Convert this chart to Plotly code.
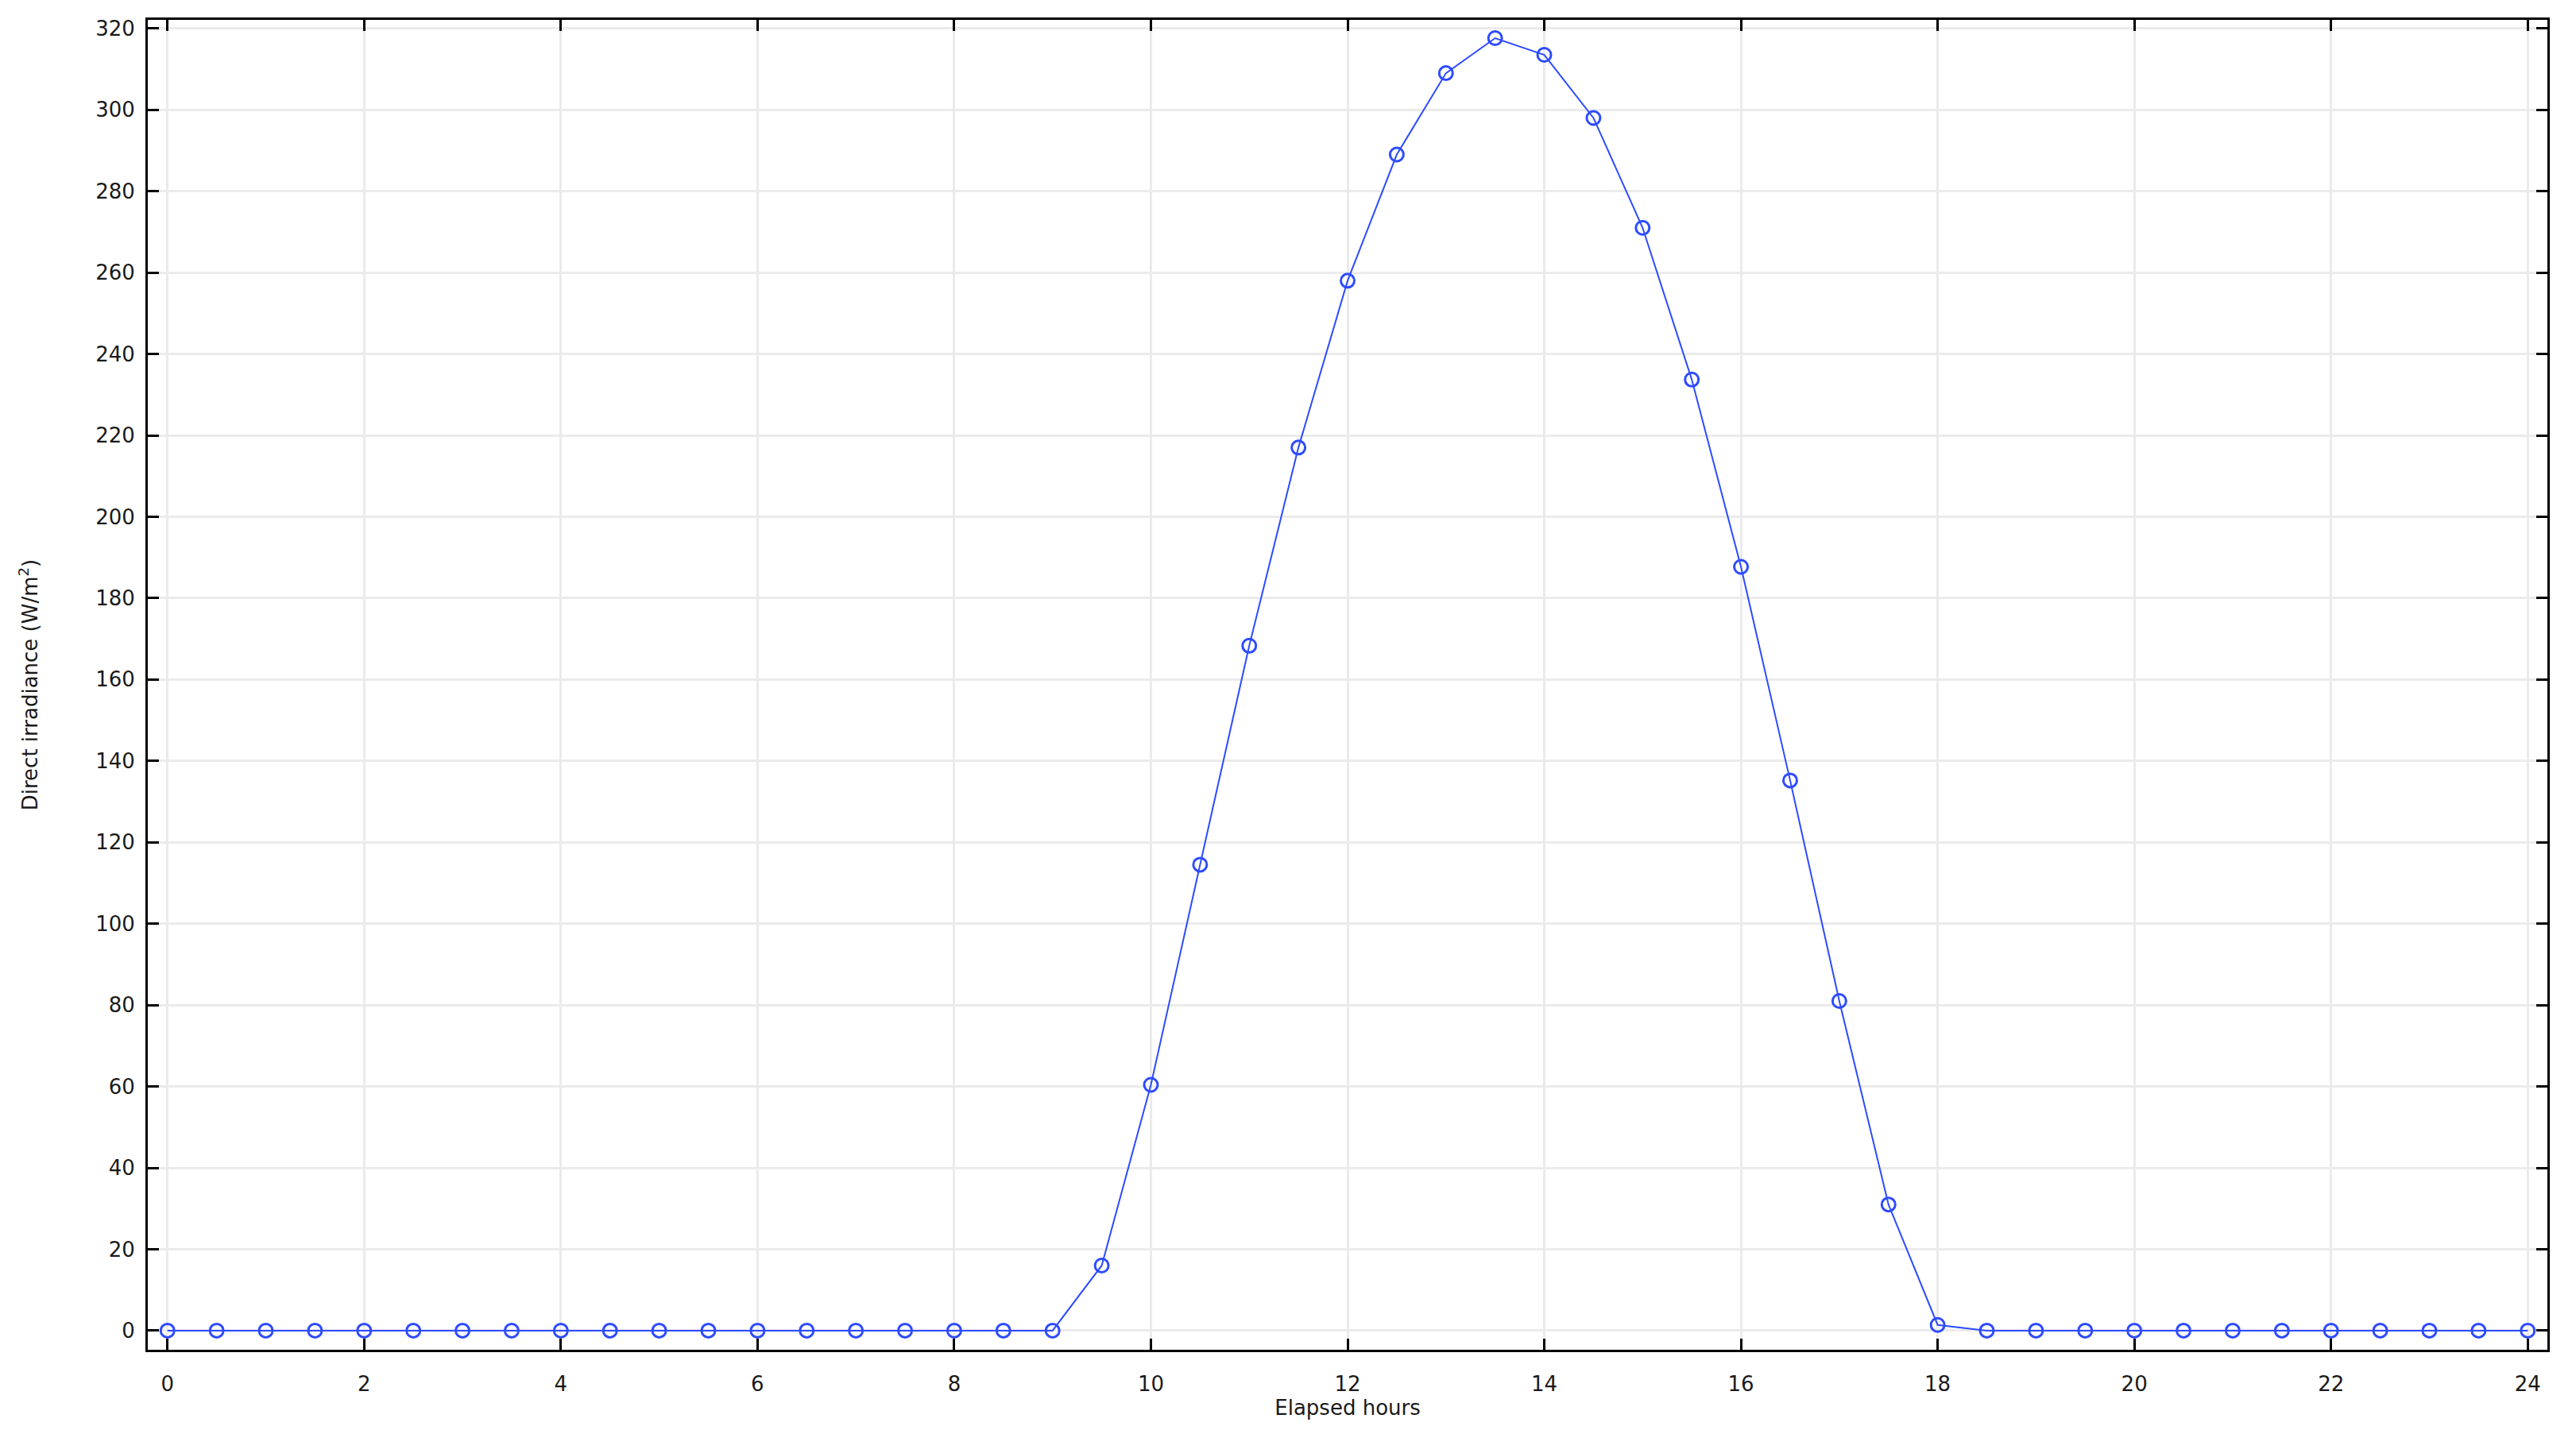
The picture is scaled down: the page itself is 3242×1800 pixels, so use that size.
import plotly.graph_objects as go

# data
hours = [i * 0.5 for i in range(49)]
irradiance = [0, 0, 0, 0, 0, 0, 0, 0, 0, 0,
              0, 0, 0, 0, 0, 0, 0, 0, 0, 16,
              60.4, 114.5, 168.3, 217, 258, 289, 309, 317.6, 313.5, 298,
              271, 233.7, 187.7, 135.2, 81, 31, 1.4, 0, 0, 0,
              0, 0, 0, 0, 0, 0, 0, 0, 0]
x_ticks = list(range(0, 25, 2))
y_ticks = list(range(0, 321, 20))

blue = 'rgb(45,75,255)'
font = dict(family='DejaVu Sans', size=26, color='#1a1a1a')

fig = go.Figure()
fig.add_trace(go.Scatter(
    x=hours, y=irradiance,
    mode='lines+markers',
    line=dict(color=blue, width=2),
    marker=dict(symbol='circle-open', size=17, color=blue, line=dict(width=3)),
    showlegend=False,
))

axis_common = dict(
    showline=True, linecolor='black', linewidth=3,
    mirror='ticks', ticks='inside', ticklen=14, tickwidth=3, tickcolor='black',
    showgrid=True, gridcolor='#ebebeb', gridwidth=3,
    zeroline=False,
    tickfont=font,
)

fig.update_xaxes(
    range=[-0.2, 24.2], tickvals=x_ticks,
    title=dict(text='Elapsed hours', font=font, standoff=4),
    ticklabelstandoff=18,
    **axis_common,
)
fig.update_yaxes(
    range=[-4.7, 322.1], tickvals=y_ticks,
    title=dict(text='Direct irradiance (W/m<sup>2</sup>)', font=font, standoff=66),
    ticklabelstandoff=8,
    **axis_common,
)

fig.update_layout(
    width=3242, height=1800,
    margin=dict(l=186, r=36, t=25, b=101),
    plot_bgcolor='white', paper_bgcolor='white',
)

fig.write_html("out.html", config={'displayModeBar': False},
               post_script="document.body.style.margin='0';")
